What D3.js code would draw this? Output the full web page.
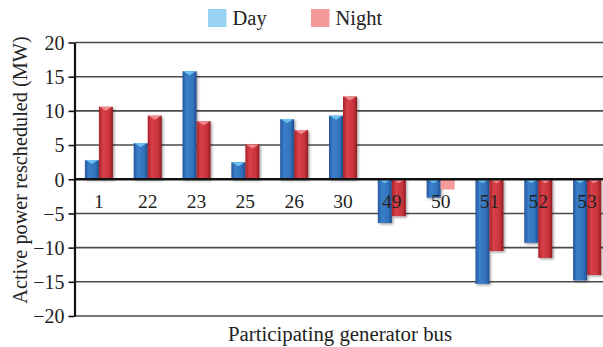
<!DOCTYPE html>
<html>
<head>
<meta charset="utf-8">
<script src="https://cdn.jsdelivr.net/npm/d3@7/dist/d3.min.js"></script>
<style>
  html, body { margin: 0; padding: 0; background: #fff; }
  svg { display: block; }
  svg text { font-family: "Liberation Serif"; }
</style>
</head>
<body>
<svg id="chart" width="603" height="347"></svg>
<script>
// Participating generator buses and rescheduled active power (MW)
const buses = ["1", "22", "23", "25", "26", "30", "49", "50", "51", "52", "53"];
const dayValues = [2.8, 5.3, 15.8, 2.5, 8.8, 9.3, -6.4, -2.7, -15.3, -9.3, -14.8];
const nightValues = [10.6, 9.3, 8.5, 5.1, 7.2, 12.1, -5.4, -1.5, -10.5, -11.5, -14.0];
const seriesNames = ["Day", "Night"];
const yTicks = [20, 15, 10, 5, 0, -5, -10, -15, -20];

const FONT = '"Liberation Serif"';

const svg = d3.select("#chart");
const margin = { left: 74.5, right: 611.5, top: 42.5, bottom: 316 };

const x0 = d3.scaleBand()
  .domain(buses)
  .range([margin.left, margin.right])
  .paddingInner(0.426)
  .paddingOuter(0.213);

const x1 = d3.scaleBand()
  .domain(seriesNames)
  .range([0, x0.bandwidth()]);

const y = d3.scaleLinear()
  .domain([-20, 20])
  .range([margin.bottom, margin.top]);

// gradients give the bars their rounded, lit look
const defs = svg.append("defs");
const palettes = {
  Day: { stops: ["#2558a0", "#3b7fca", "#3372bd", "#1e4b8a"], cap: "#6cc2f0", flat: "#98d3f3" },
  Night: { stops: ["#a82229", "#d8404a", "#c8333b", "#8e1c22"], cap: "#f08a8e", flat: "#f59a9b" }
};
seriesNames.forEach(name => {
  const g = defs.append("linearGradient").attr("id", "grad-" + name)
    .attr("x1", "0%").attr("x2", "100%").attr("y1", "0%").attr("y2", "0%");
  const s = palettes[name].stops;
  [[0, s[0]], [0.3, s[1]], [0.75, s[2]], [1, s[3]]].forEach(([o, c]) =>
    g.append("stop").attr("offset", o).attr("stop-color", c));
});
const shadow = defs.append("filter").attr("id", "shadow")
  .attr("x", "-30%").attr("y", "-10%").attr("width", "160%").attr("height", "130%");
shadow.append("feDropShadow").attr("dx", 1.5).attr("dy", 1.5)
  .attr("stdDeviation", 1.2).attr("flood-color", "#000").attr("flood-opacity", 0.35);

// horizontal grid lines
svg.append("g").selectAll("line")
  .data(yTicks.filter(t => t !== 0))
  .join("line")
  .attr("x1", margin.left).attr("x2", 603)
  .attr("y1", d => y(d)).attr("y2", d => y(d))
  .attr("stroke", "#4a4a4a").attr("stroke-width", 1.6);

// bars
const records = [];
buses.forEach((b, i) => {
  records.push({ bus: b, series: "Day", value: dayValues[i] });
  records.push({ bus: b, series: "Night", value: nightValues[i] });
});

const barG = svg.append("g");
records.forEach(r => {
  const bx = x0(r.bus) + x1(r.series);
  const bw = x1.bandwidth();
  const top = Math.min(y(r.value), y(0));
  const h = Math.abs(y(r.value) - y(0));
  const flat = Math.abs(r.value) < 2;
  barG.append("rect")
    .attr("x", bx).attr("y", top)
    .attr("width", bw).attr("height", h)
    .attr("fill", flat ? palettes[r.series].flat : "url(#grad-" + r.series + ")")
    .attr("filter", flat ? null : "url(#shadow)");
  if (!flat) {
    barG.append("path")
      .attr("d", `M${bx + 0.5},${top}L${bx + bw - 0.5},${top}L${bx + bw / 2},${top + 4}Z`)
      .attr("fill", palettes[r.series].cap);
  }
});

// zero line
svg.append("line")
  .attr("x1", margin.left).attr("x2", 603)
  .attr("y1", y(0)).attr("y2", y(0))
  .attr("stroke", "#111").attr("stroke-width", 2.4);

// y axis
const yAxis = svg.append("g")
  .attr("transform", `translate(${margin.left},0)`)
  .call(d3.axisLeft(y).tickValues(yTicks).tickSize(6).tickSizeOuter(0)
    .tickFormat(d => d < 0 ? "\u2212" + Math.abs(d) : d));
yAxis.attr("font-family", null).attr("font-size", null);
yAxis.select(".domain").attr("stroke", "#111").attr("stroke-width", 2.2);
yAxis.selectAll(".tick line").attr("stroke", "#111").attr("stroke-width", 1.6);
yAxis.selectAll(".tick text")
  .attr("x", -10).attr("dy", "0.34em")
  .attr("fill", "#222")
  .style("font-family", FONT).style("font-size", "20px");

// bus labels below the zero line
svg.append("g").selectAll("text")
  .data(buses)
  .join("text")
  .attr("x", d => x0(d) + x0.bandwidth() / 2)
  .attr("y", y(0) + 29)
  .attr("text-anchor", "middle")
  .attr("fill", "#222")
  .style("font-family", FONT).style("font-size", "19.5px")
  .text(d => d);

// axis titles
svg.append("text")
  .attr("x", 340).attr("y", 341)
  .attr("text-anchor", "middle")
  .attr("fill", "#222")
  .style("font-family", FONT).style("font-size", "20.8px")
  .text("Participating generator bus");

svg.append("text")
  .attr("transform", "translate(27,170) rotate(-90)")
  .attr("text-anchor", "middle")
  .attr("fill", "#222")
  .style("font-family", FONT).style("font-size", "20.3px")
  .text("Active power rescheduled (MW)");

// legend
const legendX = [208, 311];
seriesNames.forEach((name, i) => {
  svg.append("rect")
    .attr("x", legendX[i]).attr("y", 9)
    .attr("width", 18.5).attr("height", 18)
    .attr("fill", palettes[name].flat);
  svg.append("text")
    .attr("x", legendX[i] + 24.5).attr("y", 25)
    .attr("fill", "#222")
    .style("font-family", FONT).style("font-size", "20.5px")
    .text(name);
});
</script>
</body>
</html>
